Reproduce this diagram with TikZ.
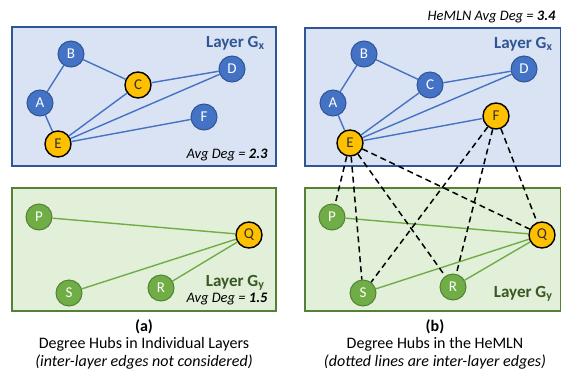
\documentclass[tikz,border=0pt]{standalone}
\usepackage{fontspec}
\setmainfont{Carlito}
\definecolor{gxfill}{HTML}{DAE3F3}
\definecolor{gxline}{HTML}{2F5597}
\definecolor{gxnode}{HTML}{4472C4}
\definecolor{gyfill}{HTML}{E2F0D9}
\definecolor{gyline}{HTML}{548235}
\definecolor{gynode}{HTML}{70AD47}
\definecolor{gytext}{HTML}{385723}
\definecolor{hub}{HTML}{FFC000}
\tikzset{
  layerx/.style={draw=gxline,fill=gxfill,line width=1.3pt},
  layery/.style={draw=gyline,fill=gyfill,line width=1.3pt},
  xnode/.style={circle,minimum size=26pt,inner sep=0pt,fill=gxnode,draw=gxline,
    line width=1pt,text=white,font=\fontsize{15}{15}\selectfont},
  ynode/.style={circle,minimum size=26pt,inner sep=0pt,fill=gynode,draw=gyline,
    line width=1pt,text=white,font=\fontsize{15}{15}\selectfont},
  hubnode/.style={circle,minimum size=26pt,inner sep=0pt,fill=hub,draw=black,
    line width=1.4pt,text=black!80,font=\fontsize{15}{15}\selectfont},
  xedge/.style={draw=gxnode,line width=1.4pt},
  yedge/.style={draw=gynode,line width=1.4pt},
  interedge/.style={draw=black,line width=1.5pt,dash pattern=on 6pt off 4pt},
  laylabel/.style={anchor=east,font=\fontsize{17}{17}\selectfont\bfseries},
  degtext/.style={anchor=east,font=\fontsize{14.5}{14.5}\selectfont\itshape},
  caption/.style={align=center,font=\fontsize{16}{17.5}\selectfont}
}
\begin{document}
\begin{tikzpicture}[x=1pt,y=-1pt]
  \useasboundingbox (0,0) rectangle (561,372);
  % (a) layers drawn separately
  \draw[layerx] (12,27) rectangle (276,166);
  \draw[layery] (12,188) rectangle (276,311);
  \node[laylabel,text=gxline] (alx) at (268,43) {Layer G\textsubscript{x}};
  \node[degtext] (adx) at (271,155) {Avg Deg = \textbf{2.3}};
  \node[laylabel,text=gytext] (aly) at (268,283) {Layer G\textsubscript{y}};
  \node[degtext] (ady) at (271,299) {Avg Deg = \textbf{1.5}};
  \node[xnode] (aA) at (40,103) {A};
  \node[xnode] (aB) at (71,54) {B};
  \node[hubnode] (aC) at (138,85) {C};
  \node[xnode] (aD) at (232,69) {D};
  \node[hubnode] (aE) at (58,144) {E};
  \node[xnode] (aF) at (204,117) {F};
  \node[ynode] (aP) at (39,217) {P};
  \node[hubnode] (aQ) at (249,235) {Q};
  \node[ynode] (aR) at (161,288) {R};
  \node[ynode] (aS) at (69,293) {S};
  \foreach \u/\v in {A/B,B/C,C/D,A/E,E/C,E/D,E/F}
    \draw[xedge] (a\u) -- (a\v);
  \foreach \u in {P,S,R}
    \draw[yedge] (a\u) -- (aQ);
  \node[caption] (acap) at (144,344) {\textbf{(a)}\\Degree Hubs in Individual Layers\\\textit{(inter-layer edges not considered)}};
  % (b) the HeMLN with inter-layer edges
  \draw[layerx] (305,28) rectangle (561,166);
  \draw[layery] (305,188) rectangle (561,311);
  \node[degtext] (bdeg) at (559,17) {HeMLN Avg Deg = \textbf{3.4}};
  \node[laylabel,text=gxline] (blx) at (556,44) {Layer G\textsubscript{x}};
  \node[laylabel,text=gytext] (bly) at (556,294) {Layer G\textsubscript{y}};
  \node[xnode] (bA) at (333,103) {A};
  \node[xnode] (bB) at (364,54) {B};
  \node[xnode] (bC) at (430,85) {C};
  \node[xnode] (bD) at (524,69) {D};
  \node[hubnode] (bE) at (350,143) {E};
  \node[hubnode] (bF) at (496,116) {F};
  \node[ynode] (bP) at (332,217) {P};
  \node[hubnode] (bQ) at (542,235) {Q};
  \node[ynode] (bR) at (453,287) {R};
  \node[ynode] (bS) at (363,293) {S};
  \foreach \u/\v in {A/B,B/C,C/D,A/E,E/C,E/D,E/F}
    \draw[xedge] (b\u) -- (b\v);
  \foreach \u in {P,S,R}
    \draw[yedge] (b\u) -- (bQ);
  \foreach \u/\v in {E/P,E/S,E/R,E/Q,F/S,F/R,F/Q}
    \draw[interedge] (b\u) -- (b\v);
  \node[caption] (bcap) at (435,344) {\textbf{(b)}\\Degree Hubs in the HeMLN\\\textit{(dotted lines are inter-layer edges)}};
\end{tikzpicture}
\end{document}
